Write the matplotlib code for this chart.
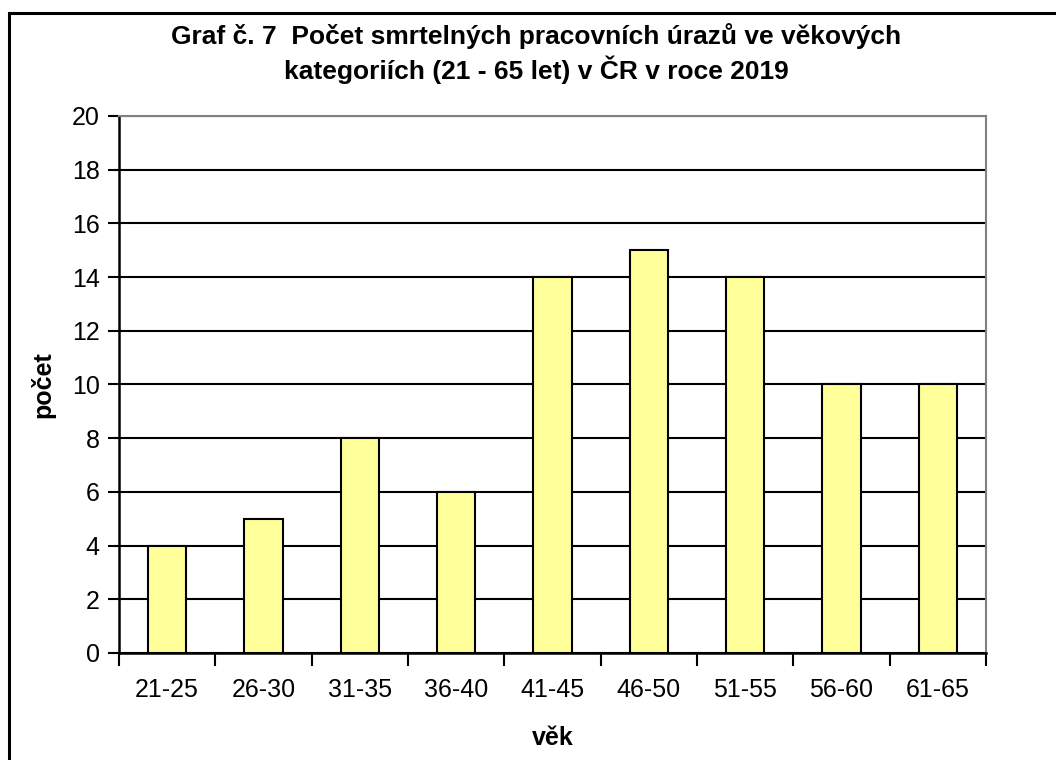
import matplotlib.pyplot as plt
from matplotlib.patches import Rectangle

plt.rcParams['font.family'] = ['Liberation Sans', 'DejaVu Sans']

# počty smrtelných úrazů podle věku
kategorie = ["21-25", "26-30", "31-35", "36-40", "41-45", "46-50", "51-55", "56-60", "61-65"]
pocet = [4, 5, 8, 6, 14, 15, 14, 10, 10]

fig = plt.figure(figsize=(10.56, 7.6), dpi=100)
ax = fig.add_axes([0.1127, 0.1408, 0.8210, 0.7066])

x = range(len(kategorie))
ax.bar(x, pocet, width=0.4, color="#FFFF99", edgecolor="black", linewidth=1.5, zorder=3)

ax.set_ylim(0, 20)
ax.set_xlim(-0.5, len(kategorie) - 0.5)
ax.set_yticks(range(0, 21, 2))
ax.yaxis.grid(True, color="black", linewidth=1.5, zorder=0)
ax.set_axisbelow(True)

# popisky pod sloupci, značky mezi kategoriemi
ax.set_xticks(list(x))
ax.set_xticklabels(kategorie)
ax.set_xticks([i - 0.5 for i in range(len(kategorie) + 1)], minor=True)
ax.tick_params(axis="x", which="major", length=0, pad=18, labelsize=18)
ax.tick_params(axis="x", which="minor", length=9, width=1.5, direction="out")
ax.tick_params(axis="y", length=8, width=1.5, direction="out", labelsize=18, pad=6)

for s in ["left", "bottom"]:
    ax.spines[s].set_linewidth(1.8)
    ax.spines[s].set_color("black")
for s in ["top", "right"]:
    ax.spines[s].set_linewidth(1.5)
    ax.spines[s].set_color("#808080")

ax.set_ylabel("počet", fontsize=18, fontweight="bold", labelpad=12)
ax.set_xlabel("věk", fontsize=18, fontweight="bold", labelpad=17)

fig.text(0.508, 0.97, "Graf č. 7  Počet smrtelných pracovních úrazů ve věkových\n"
         "kategoriích (21 - 65 let) v ČR v roce 2019",
         ha="center", va="top", fontsize=19, fontweight="bold", linespacing=1.3)

# rámeček kolem grafu
fig.patches.append(Rectangle((8.5 / 1056, -0.05), 1.2, 1 - 12.5 / 760 + 0.05,
                             transform=fig.transFigure, fill=False,
                             edgecolor="black", linewidth=2.2))

fig.savefig("out.png", dpi=100)
